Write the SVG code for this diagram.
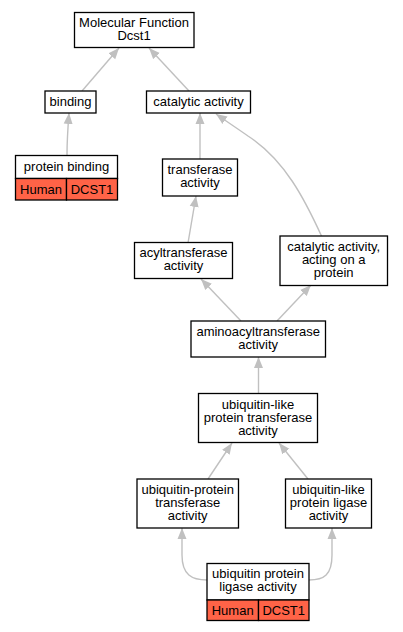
<svg xmlns="http://www.w3.org/2000/svg" width="403" height="632" viewBox="0 0 403 632">
<style>
.n{fill:#fff;stroke:#000;stroke-width:1.3}
.r{fill:#ff6347;stroke:#000;stroke-width:1.3}
.t{font-family:"Liberation Sans",Arial,sans-serif;font-size:13px;fill:#000;text-anchor:middle}
.e{fill:none;stroke:#c0c0c0;stroke-width:1.4}
</style>
<defs>
<marker id="a" markerUnits="userSpaceOnUse" markerWidth="12" markerHeight="10" viewBox="0 -5 12 10" refX="11" refY="0" orient="auto">
<path d="M0,-4.5 L11,0 L0,4.5 z" fill="#c0c0c0"/>
</marker>
</defs>
<rect width="403" height="632" fill="#fff"/>
<g id="edges">
<path class="e" marker-end="url(#a)" d="M82,91 L119,48"/>
<path class="e" marker-end="url(#a)" d="M189,91 L149,48"/>
<path class="e" marker-end="url(#a)" d="M67,155 C67,140 68,126 69,113"/>
<path class="e" marker-end="url(#a)" d="M200,159 L200,113"/>
<path class="e" marker-end="url(#a)" d="M321.5,236 C305,200 285,160 248,136 C238,129 226,121 216,114"/>
<path class="e" marker-end="url(#a)" d="M188,243 L196,196"/>
<path class="e" marker-end="url(#a)" d="M241,321 L201,279"/>
<path class="e" marker-end="url(#a)" d="M277,321 L311,285"/>
<path class="e" marker-end="url(#a)" d="M258.5,393 L258.5,357"/>
<path class="e" marker-end="url(#a)" d="M208,479 L232,443"/>
<path class="e" marker-end="url(#a)" d="M308,479 L279,443"/>
<path class="e" marker-end="url(#a)" d="M207,580 C192,580 182,575 182,555 L182,528"/>
<path class="e" marker-end="url(#a)" d="M309,580 C324,580 332,575 332,555 L332,528"/>
</g>
<g id="mf">
<rect class="n" x="74.5" y="12.5" width="119.5" height="35"/>
<text class="t" x="134" y="26.5">Molecular Function</text>
<text class="t" x="134" y="39.5">Dcst1</text>
</g>
<g id="binding">
<rect class="n" x="45" y="91" width="51" height="22"/>
<text class="t" x="70.5" y="105.5">binding</text>
</g>
<g id="catalytic">
<rect class="n" x="146.5" y="91" width="104" height="22"/>
<text class="t" x="198.5" y="105.5">catalytic activity</text>
</g>
<g id="protein_binding">
<rect class="n" x="15.5" y="155.5" width="102" height="23"/>
<rect class="r" x="15.5" y="178.5" width="51" height="21.5"/>
<rect class="r" x="66.5" y="178.5" width="51" height="21.5"/>
<text class="t" x="66.5" y="170.5">protein binding</text>
<text class="t" x="41" y="193.5">Human</text>
<text class="t" x="92" y="193.5">DCST1</text>
</g>
<g id="transferase">
<rect class="n" x="162.5" y="159" width="75" height="37"/>
<text class="t" x="200" y="174">transferase</text>
<text class="t" x="200" y="187">activity</text>
</g>
<g id="acyltransferase">
<rect class="n" x="134.5" y="242.5" width="98" height="36"/>
<text class="t" x="183.5" y="257">acyltransferase</text>
<text class="t" x="183.5" y="270">activity</text>
</g>
<g id="cat_protein">
<rect class="n" x="280" y="236" width="107.5" height="49.5"/>
<text class="t" x="333.7" y="251">catalytic activity,</text>
<text class="t" x="333.7" y="264">acting on a</text>
<text class="t" x="333.7" y="277">protein</text>
</g>
<g id="aminoacyl">
<rect class="n" x="191" y="321" width="134.5" height="36"/>
<text class="t" x="258.2" y="335.5">aminoacyltransferase</text>
<text class="t" x="258.2" y="348.5">activity</text>
</g>
<g id="ubl_transferase">
<rect class="n" x="198.5" y="393.5" width="119" height="49"/>
<text class="t" x="258" y="408.5">ubiquitin-like</text>
<text class="t" x="258" y="421.5">protein transferase</text>
<text class="t" x="258" y="434.5">activity</text>
</g>
<g id="ubp_transferase">
<rect class="n" x="137" y="479" width="101.5" height="49"/>
<text class="t" x="187.7" y="494">ubiquitin-protein</text>
<text class="t" x="187.7" y="507">transferase</text>
<text class="t" x="187.7" y="520">activity</text>
</g>
<g id="ubl_ligase">
<rect class="n" x="285.5" y="479" width="86" height="49"/>
<text class="t" x="328.5" y="494">ubiquitin-like</text>
<text class="t" x="328.5" y="507">protein ligase</text>
<text class="t" x="328.5" y="520">activity</text>
</g>
<g id="ubp_ligase">
<rect class="n" x="207" y="563.5" width="102" height="36.5"/>
<rect class="r" x="207" y="600" width="51.5" height="20.5"/>
<rect class="r" x="258.5" y="600" width="50.5" height="20.5"/>
<text class="t" x="258" y="577.5">ubiquitin protein</text>
<text class="t" x="258" y="590.5">ligase activity</text>
<text class="t" x="232.7" y="614.5">Human</text>
<text class="t" x="283.7" y="614.5">DCST1</text>
</g>
</svg>
